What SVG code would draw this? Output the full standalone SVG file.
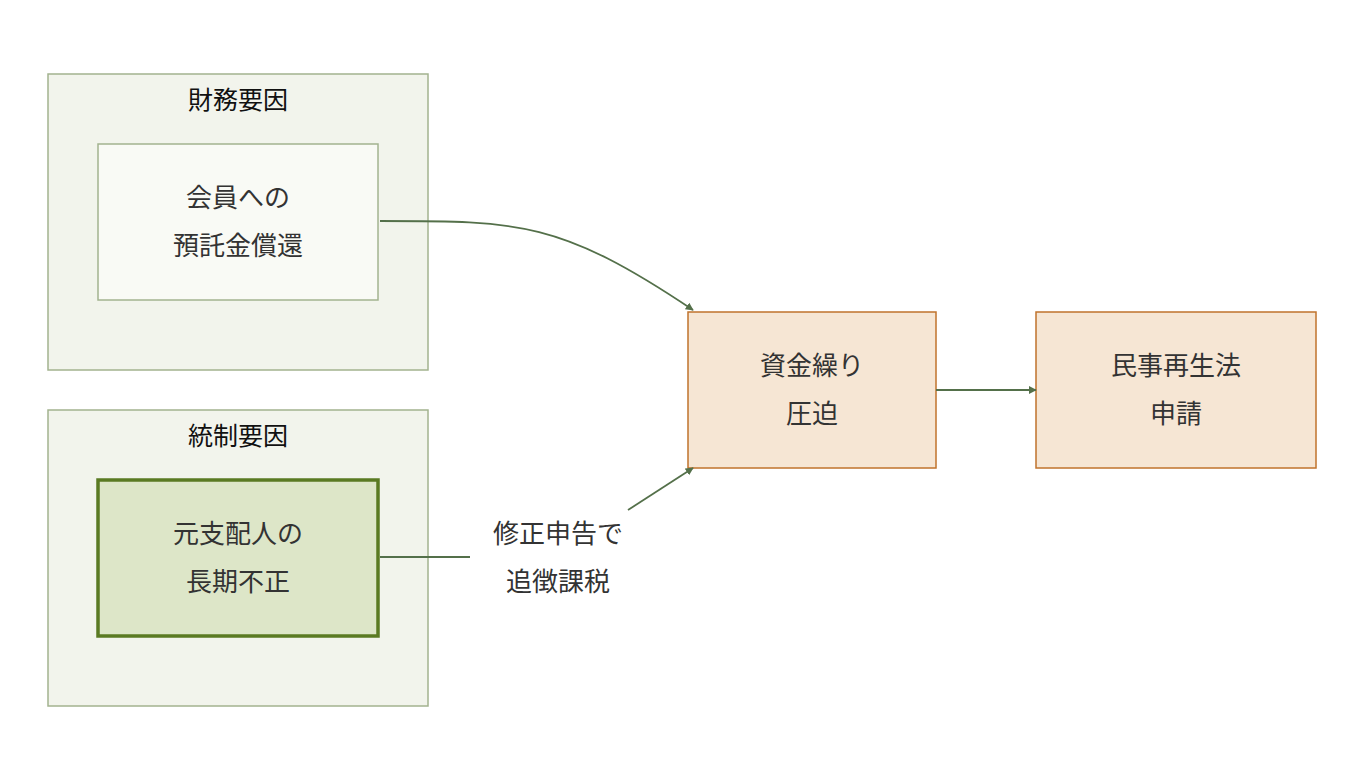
<svg xmlns="http://www.w3.org/2000/svg" width="1364" height="784" viewBox="0 0 1364 784">
<style>
text{font-family:"Noto Sans CJK JP","Noto Sans",sans-serif;text-anchor:middle}
.cl{fill:#f2f4ec;stroke:#a3b38f;stroke-width:1.5}
.ct{font-size:25px;fill:#111}
.n{fill:#f9faf5;stroke:#a3b38f;stroke-width:1.5}
.h{fill:#dde6c8;stroke:#5a7a22;stroke-width:3.5}
.o{fill:#f6e6d4;stroke:#c0732c;stroke-width:1.5}
.t{font-size:26px;fill:#333}
.e{fill:none;stroke:#54704a;stroke-width:1.8}
</style>
<defs><marker id="a" viewBox="0 0 10 10" refX="9" refY="5" markerWidth="8" markerHeight="8" markerUnits="userSpaceOnUse" orient="auto"><path d="M0,0L10,5L0,10z" fill="#54704a"/></marker></defs>
<g id="c1"><rect class="cl" x="48" y="74" width="380" height="296"/><text class="ct" x="238" y="109">財務要因</text></g>
<g id="c2"><rect class="cl" x="48" y="410" width="380" height="296"/><text class="ct" x="238" y="445">統制要因</text></g>
<g id="n1"><rect class="n" x="98" y="144" width="280" height="156"/><text class="t" x="238" y="207">会員への</text><text class="t" x="238" y="255">預託金償還</text></g>
<g id="n2"><rect class="h" x="98" y="480" width="280" height="156"/><text class="t" x="238" y="543">元支配人の</text><text class="t" x="238" y="591">長期不正</text></g>
<g id="n3"><rect class="o" x="688" y="312" width="248" height="156"/><text class="t" x="812" y="375">資金繰り</text><text class="t" x="812" y="423">圧迫</text></g>
<g id="n4"><rect class="o" x="1036" y="312" width="280" height="156"/><text class="t" x="1176" y="375">民事再生法</text><text class="t" x="1176" y="423">申請</text></g>
<g id="edges">
<path class="e" marker-end="url(#a)" d="M380,221C520,221 560,221 693,310"/>
<path class="e" d="M380,557L470,557"/>
<path class="e" marker-end="url(#a)" d="M628,510L693,468"/>
<path class="e" marker-end="url(#a)" d="M936,390L1036,390"/>
<text class="t" x="558" y="543">修正申告で</text><text class="t" x="558" y="591">追徴課税</text>
</g>
</svg>
